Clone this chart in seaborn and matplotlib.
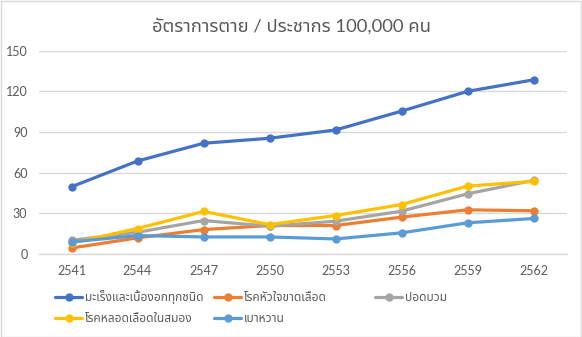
import matplotlib
matplotlib.use("Agg")
import matplotlib.pyplot as plt
import seaborn as sns
import pandas as pd
from matplotlib import font_manager
from matplotlib.ft2font import FT2Font
from matplotlib.patches import Rectangle

# ---------------- data ----------------
years = [2541, 2544, 2547, 2550, 2553, 2556, 2559, 2562]
series_names = ["มะเร็งและเนื้องอกทุกชนิด", "โรคหัวใจขาดเลือด", "ปอดบวม",
                "โรคหลอดเลือดในสมอง", "เบาหวาน"]
cancer = [49.6, 68.6, 81.7, 85.4, 91.5, 105.4, 120.0, 128.5]
heart = [4.4, 11.9, 18.0, 21.0, 21.0, 27.2, 32.6, 31.9]
pneumonia = [10.1, 16.0, 24.7, 20.5, 24.2, 31.6, 44.4, 54.3]
stroke = [8.1, 18.8, 31.4, 21.7, 28.4, 36.5, 50.1, 53.6]
diabetes = [8.9, 13.6, 12.6, 12.6, 11.1, 15.6, 23.0, 26.2]
title = "อัตราการตาย / ประชากร 100,000 คน"
yticks = [0, 30, 60, 90, 120, 150]
colors = ["#4472C4", "#ED7D31", "#A5A5A5", "#FFC000", "#5B9BD5"]

# ---------------- fonts ----------------
def thai_fonts():
    found = []
    seen = set()
    for f in font_manager.fontManager.ttflist:
        if f.name in seen:
            continue
        try:
            cm = FT2Font(f.fname).get_charmap()
        except Exception:
            continue
        if 0x0E01 in cm and 0x0E49 in cm:
            found.append(f.name)
            seen.add(f.name)
    pref = ["Noto Sans Thai", "Noto Sans Thai UI", "Tahoma", "Leelawadee UI",
            "Loma", "Garuda", "Waree", "Sarabun", "Umpush", "Norasi", "Kinnari"]
    found.sort(key=lambda n: pref.index(n) if n in pref else len(pref))
    return found

tf = thai_fonts()
sns.set_theme(style="white")
fam = ["Lato"] + tf[:1] + ["DejaVu Sans"]
plt.rcParams["font.family"] = fam

TXT = "#595959"

df = pd.DataFrame({
    "year": years * 5,
    "value": cancer + heart + pneumonia + stroke + diabetes,
    "series": sum([[n] * len(years) for n in series_names], []),
})

W, H = 582, 337
fig = plt.figure(figsize=(W / 100, H / 100), dpi=100)
ax = fig.add_axes([38.5 / W, 83 / H, (566.5 - 38.5) / W, (254 - 50.7) / H])

sns.lineplot(data=df, x="year", y="value", hue="series", hue_order=series_names,
             palette=colors, marker="o", markersize=6, markeredgewidth=0,
             linewidth=2.3, ax=ax, legend=False, sort=False)

ax.set_xlim(years[0] - 1.5, years[-1] + 1.5)
ax.set_ylim(0, 150)
ax.set_yticks(yticks)
ax.set_xticks(years)
ax.set_xticklabels([str(y) for y in years])
ax.grid(axis="y", color="#D9D9D9", linewidth=1)
ax.set_axisbelow(True)
for s in ["top", "right", "left"]:
    ax.spines[s].set_visible(False)
ax.spines["bottom"].set_color("#D9D9D9")
ax.spines["bottom"].set_linewidth(1)
ax.tick_params(axis="both", length=0, labelsize=9, labelcolor=TXT)
ax.tick_params(axis="y", pad=8)
ax.tick_params(axis="x", pad=8)
ax.set_xlabel("")
ax.set_ylabel("")

fig.text(0.5, 1 - 26 / H, title, ha="center", va="center", fontsize=13.3, color=TXT)

# legend: Excel-like fixed grid, one entry per slot
handles = [plt.Line2D([], [], color=c, marker="o", markersize=5, linewidth=2.3)
           for c in colors]
slots = [(55, 297.5), (214, 297.5), (375, 297.5), (55, 318.5), (214, 318.5)]
for i, (x0, y0) in enumerate(slots):
    fig.legend([handles[i]], [series_names[i]],
               loc="center left", bbox_to_anchor=(x0 / W, 1 - y0 / H),
               frameon=False, fontsize=8.6, handlelength=2.3, handletextpad=0.2,
               borderpad=0, borderaxespad=0, labelcolor=TXT)

fig.patches.append(Rectangle((0.5 / W, 0.5 / H), 1 - 1.5 / W, 1 - 1.5 / H,
                             transform=fig.transFigure, fill=False,
                             edgecolor="#D9D9D9", linewidth=1))

fig.savefig("out.png", dpi=100)
